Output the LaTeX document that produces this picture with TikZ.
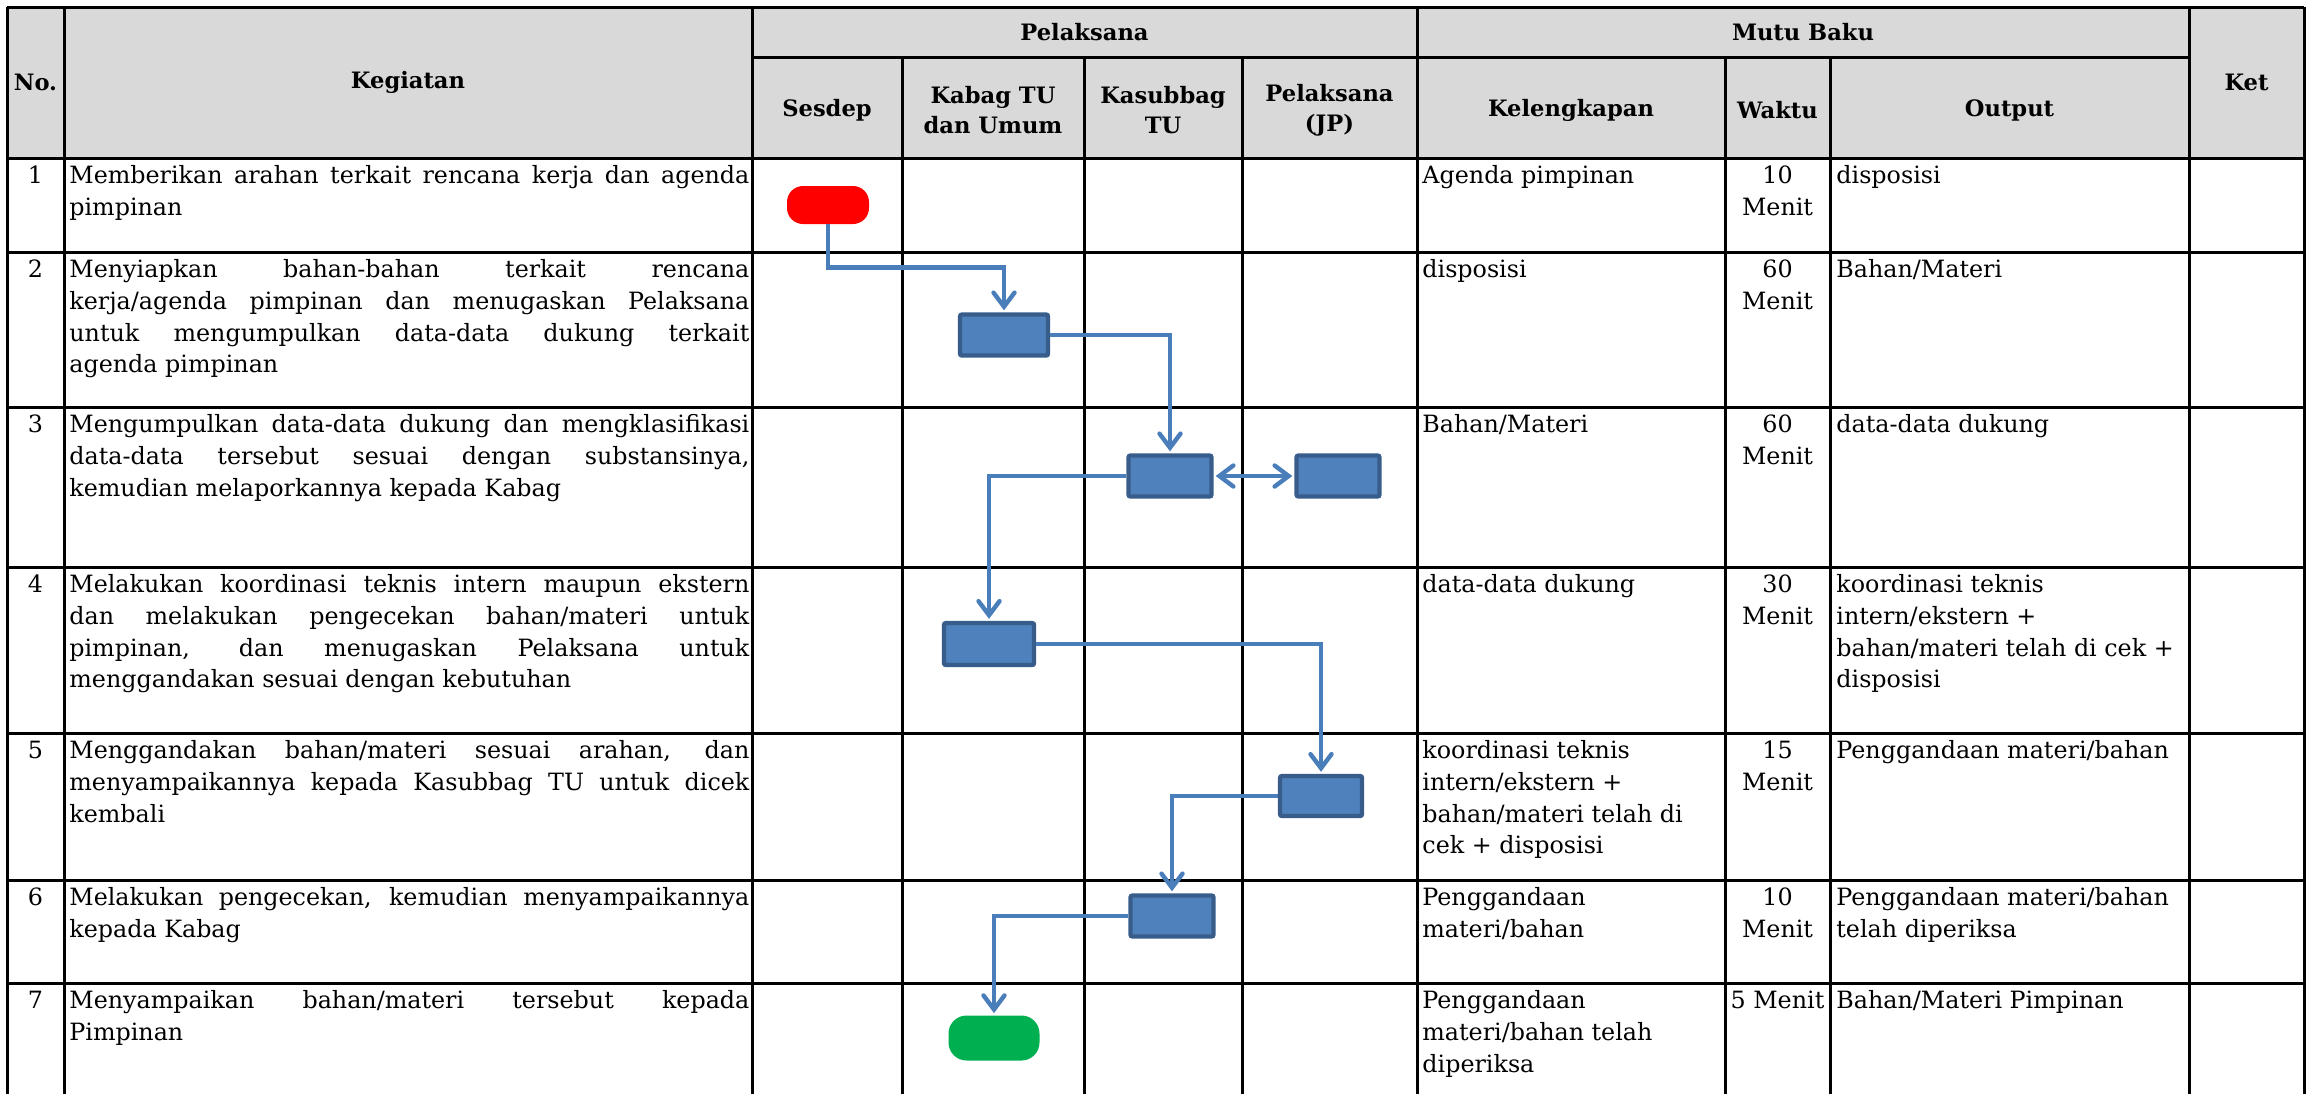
\documentclass[tikz,border=0pt]{standalone}
\usepackage{fontspec}
\setmainfont{DejaVu Serif}
\usetikzlibrary{arrows.meta}
\definecolor{hdrgray}{HTML}{D9D9D9}
\definecolor{boxfill}{HTML}{4F81BD}
\definecolor{boxline}{HTML}{385D8A}
\definecolor{connblue}{HTML}{4A7EBB}
\definecolor{startred}{HTML}{FF0000}
\definecolor{endgreen}{HTML}{00B050}
\newcommand{\jl}[1]{\hbox to 340pt{\strut#1}}
\tikzset{
  tablerule/.style={line width=1.5pt, black},
  hd/.style={font=\fontsize{11.3pt}{15pt}\selectfont\bfseries, align=center, inner sep=0pt},
  bodytxt/.style={font=\fontsize{11.9pt}{15.85pt}\selectfont, inner sep=0pt, align=left, anchor=north west},
  numtxt/.style={font=\fontsize{11.9pt}{15.85pt}\selectfont, inner sep=0pt, align=center, anchor=north},
  procbox/.style={draw=boxline, fill=boxfill, line width=2.2pt, rounded corners=1pt, inner sep=0pt},
  startnode/.style={fill=startred, rounded corners=8pt, inner sep=0pt, minimum width=41pt, minimum height=19pt},
  endnode/.style={fill=endgreen, rounded corners=9pt, inner sep=0pt, minimum width=45.5pt, minimum height=22.5pt},
  conn/.style={draw=connblue, line width=2.2pt, shorten >=1pt, -{Straight Barb[length=7pt,width=10.5pt,line cap=round]}},
  conn2/.style={draw=connblue, line width=2.2pt, shorten >=1pt, shorten <=1pt, {Straight Barb[length=7pt,width=10.5pt,line cap=round]}-{Straight Barb[length=7pt,width=10.5pt,line cap=round]}}
}
\begin{document}
\begin{tikzpicture}[x=0.5pt,y=-0.5pt]
\useasboundingbox (0,0) rectangle (2316,1094);
% header fill
\fill[hdrgray] (7,7) rectangle (2304,158);
% horizontal rules
\draw[tablerule] (7,7) -- (2304,7);
\draw[tablerule] (752,57) -- (2189,57);
\foreach \yy in {158,252,407,567,733,880,983}{
  \draw[tablerule] (7,\yy) -- (2304,\yy);
}
% vertical rules
\foreach \xx in {7,64,752,1417,2189,2304}{
  \draw[tablerule] (\xx,7) -- (\xx,1094);
}
\foreach \xx in {902,1084,1242,1725,1830}{
  \draw[tablerule] (\xx,57) -- (\xx,1094);
}
% header texts
\node[hd] (hNo) at (35.5,82) {No.};
\node[hd] (hKeg) at (408,82) {Kegiatan};
\node[hd] (hPel) at (1084.5,32) {Pelaksana};
\node[hd] (hSes) at (827,110) {Sesdep};
\node[hd] (hKab) at (993,110) {Kabag TU\\dan Umum};
\node[hd] (hKas) at (1163,110) {Kasubbag\\TU};
\node[hd] (hPJ) at (1329.5,110) {Pelaksana\\(JP)};
\node[hd] (hMutu) at (1803,32) {Mutu Baku};
\node[hd] (hKel) at (1571,110) {Kelengkapan};
\node[hd] (hWak) at (1777.5,110) {Waktu};
\node[hd] (hOut) at (2009.5,110) {Output};
\node[hd] (hKet) at (2246.5,82) {Ket};
% numbers
\node[numtxt] (n1) at (35.5,161) {\strut 1};
\node[numtxt] (n2) at (35.5,255) {\strut 2};
\node[numtxt] (n3) at (35.5,410) {\strut 3};
\node[numtxt] (n4) at (35.5,570) {\strut 4};
\node[numtxt] (n5) at (35.5,736) {\strut 5};
\node[numtxt] (n6) at (35.5,883) {\strut 6};
\node[numtxt] (n7) at (35.5,986) {\strut 7};
% kegiatan
\node[bodytxt] (k1) at (69,161) {\jl{Memberikan arahan terkait rencana kerja dan agenda}\\\strut pimpinan};
\node[bodytxt] (k2) at (69,255) {\jl{Menyiapkan bahan-bahan terkait rencana}\\\jl{kerja/agenda pimpinan dan menugaskan Pelaksana}\\\jl{untuk mengumpulkan data-data dukung terkait}\\\strut agenda pimpinan};
\node[bodytxt] (k3) at (69,410) {\jl{Mengumpulkan data-data dukung dan mengklasifikasi}\\\jl{data-data tersebut sesuai dengan substansinya,}\\\strut kemudian melaporkannya kepada Kabag};
\node[bodytxt] (k4) at (69,570) {\jl{Melakukan koordinasi teknis intern maupun ekstern}\\\jl{dan melakukan pengecekan bahan/materi untuk}\\\jl{pimpinan, dan menugaskan Pelaksana untuk}\\\strut menggandakan sesuai dengan kebutuhan};
\node[bodytxt] (k5) at (69,736) {\jl{Menggandakan bahan/materi sesuai arahan, dan}\\\jl{menyampaikannya kepada Kasubbag TU untuk dicek}\\\strut kembali};
\node[bodytxt] (k6) at (69,883) {\jl{Melakukan pengecekan, kemudian menyampaikannya}\\\strut kepada Kabag};
\node[bodytxt] (k7) at (69,986) {\jl{Menyampaikan bahan/materi tersebut kepada}\\\strut Pimpinan};
% kelengkapan
\node[bodytxt] (l1) at (1422,161) {\strut Agenda pimpinan};
\node[bodytxt] (l2) at (1422,255) {\strut disposisi};
\node[bodytxt] (l3) at (1422,410) {\strut Bahan/Materi};
\node[bodytxt] (l4) at (1422,570) {\strut data-data dukung};
\node[bodytxt] (l5) at (1422,736) {\strut koordinasi teknis\\intern/ekstern +\\bahan/materi telah di\\cek + disposisi};
\node[bodytxt] (l6) at (1422,883) {\strut Penggandaan\\materi/bahan};
\node[bodytxt] (l7) at (1422,986) {\strut Penggandaan\\materi/bahan telah\\diperiksa};
% waktu
\node[numtxt] (w1) at (1777.5,161) {\strut 10\\Menit};
\node[numtxt] (w2) at (1777.5,255) {\strut 60\\Menit};
\node[numtxt] (w3) at (1777.5,410) {\strut 60\\Menit};
\node[numtxt] (w4) at (1777.5,570) {\strut 30\\Menit};
\node[numtxt] (w5) at (1777.5,736) {\strut 15\\Menit};
\node[numtxt] (w6) at (1777.5,883) {\strut 10\\Menit};
\node[numtxt] (w7) at (1777.5,986) {\strut 5 Menit};
% output
\node[bodytxt] (o1) at (1836,161) {\strut disposisi};
\node[bodytxt] (o2) at (1836,255) {\strut Bahan/Materi};
\node[bodytxt] (o3) at (1836,410) {\strut data-data dukung};
\node[bodytxt] (o4) at (1836,570) {\strut koordinasi teknis\\intern/ekstern +\\bahan/materi telah di cek +\\disposisi};
\node[bodytxt] (o5) at (1836,736) {\strut Penggandaan materi/bahan};
\node[bodytxt] (o6) at (1836,883) {\strut Penggandaan materi/bahan\\telah diperiksa};
\node[bodytxt] (o7) at (1836,986) {\strut Bahan/Materi Pimpinan};
% flow shapes
\node[startnode] (start) at (828,205) {};
\node[procbox, minimum width=44pt, minimum height=20.5pt] (b2) at (1004,335) {};
\node[procbox, minimum width=41.5pt, minimum height=20.5pt] (b3a) at (1170,476) {};
\node[procbox, minimum width=41.5pt, minimum height=20.5pt] (b3b) at (1338,476) {};
\node[procbox, minimum width=45pt, minimum height=21pt] (b4) at (989,644) {};
\node[procbox, minimum width=41pt, minimum height=20pt] (b5) at (1321,796) {};
\node[procbox, minimum width=41.5pt, minimum height=20.5pt] (b6) at (1172,916) {};
\node[endnode] (finish) at (994,1038) {};
% connectors
\draw[conn] (start.south) -- ++(0,43) -| (b2.north);
\draw[conn] (b2.east) -| (b3a.north);
\draw[conn2] (b3a.east) -- (b3b.west);
\draw[conn] (b3a.west) -| (b4.north);
\draw[conn] (b4.east) -| (b5.north);
\draw[conn] (b5.west) -| (b6.north);
\draw[conn] (b6.west) -| (finish.north);
\end{tikzpicture}
\end{document}
